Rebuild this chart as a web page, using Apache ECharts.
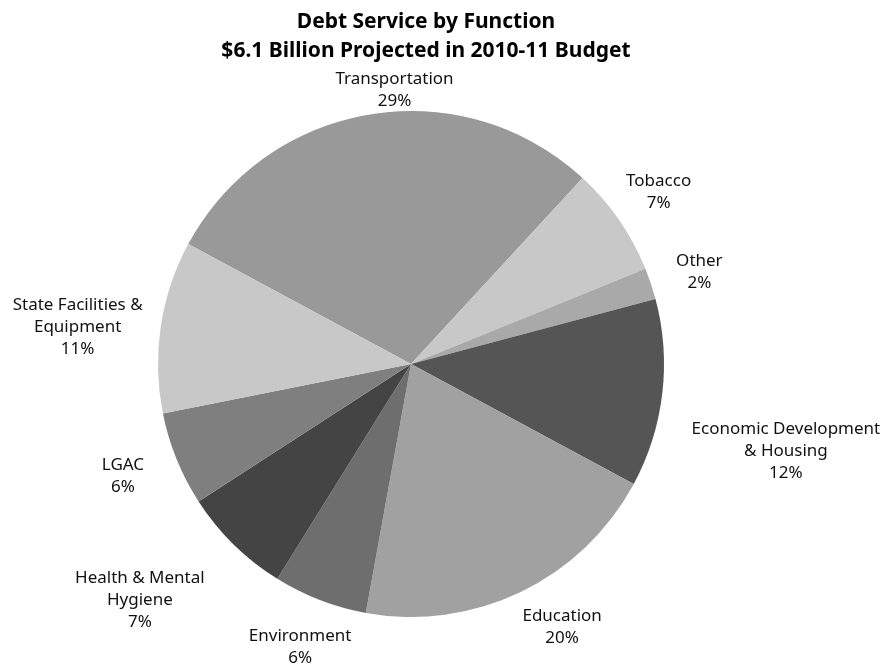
<!DOCTYPE html>
<html>
<head>
<meta charset="utf-8">
<script src="https://cdn.jsdelivr.net/npm/echarts@6/dist/echarts.min.js"></script>
<style>
  html, body { margin: 0; padding: 0; background: #fff; }
  #chart { width: 887px; height: 670px; }
</style>
</head>
<body>
<div id="chart"></div>
<script>
// Debt service shares by function (percent of total)
const categories = [
  'Transportation',
  'Tobacco',
  'Other',
  'Economic Development\n& Housing',
  'Education',
  'Environment',
  'Health & Mental\nHygiene',
  'LGAC',
  'State Facilities &\nEquipment'
];
const shares = [29, 7, 2, 12, 20, 6, 7, 6, 11];

// Slice fills, same order as categories
const sliceColors = ['#999999', '#c8c8c8', '#a9a9a9', '#555555', '#a1a1a1',
                     '#6e6e6e', '#444444', '#7f7f7f', '#c8c8c8'];

// Pie geometry
const CX = 411, CY = 364, R = 253, START = 151.7;
// Small hand nudges for individual labels (px)
const labelNudge = [[37, 9], [3, -8], [15, -1], [18, 52], [19, 5],
                    [3, 15], [-40, 24], [-23, 4], [-7, 7]];

const total = shares.reduce((a, b) => a + b, 0);
const midAngles = [];
let acc = START;
shares.forEach(v => {
  const span = v / total * 360;
  midAngles.push((acc - span / 2) * Math.PI / 180);
  acc -= span;
});

const chart = echarts.init(document.getElementById('chart'), null, { renderer: 'canvas' });
const font = "'Noto Sans', 'Open Sans', sans-serif";

chart.setOption({
  animation: false,
  backgroundColor: '#ffffff',
  title: {
    text: 'Debt Service by Function\n$6.1 Billion Projected in 2010-11 Budget',
    left: 421,
    textAlign: 'center',
    top: 3,
    textStyle: { fontFamily: font, fontSize: 21, fontWeight: 'bold', color: '#000', lineHeight: 29 }
  },
  series: [{
    type: 'pie',
    center: [CX, CY],
    radius: R,
    startAngle: START,
    clockwise: true,
    avoidLabelOverlap: false,
    emphasis: { disabled: true },
    itemStyle: { borderWidth: 0 },
    label: {
      show: true,
      position: 'outside',
      formatter: p => p.name + '\n' + p.value + '%',
      fontFamily: font,
      fontSize: 17,
      lineHeight: 22,
      color: '#111111',
      align: 'center'
    },
    labelLine: { show: false },
    labelLayout: params => {
      const i = params.dataIndex;
      const a = midAngles[i];
      const w = params.labelRect.width, h = params.labelRect.height;
      const c = Math.cos(a), s = Math.sin(a);
      const x = CX + c * (R + 12) + c * w / 2 + labelNudge[i][0];
      const y = CY - s * (R + 12) - s * h / 2 + labelNudge[i][1];
      return { x: x, y: y, align: 'center', verticalAlign: 'middle' };
    },
    data: categories.map((name, i) => ({
      name: name,
      value: shares[i],
      itemStyle: { color: sliceColors[i] }
    }))
  }]
});
</script>
</body>
</html>
